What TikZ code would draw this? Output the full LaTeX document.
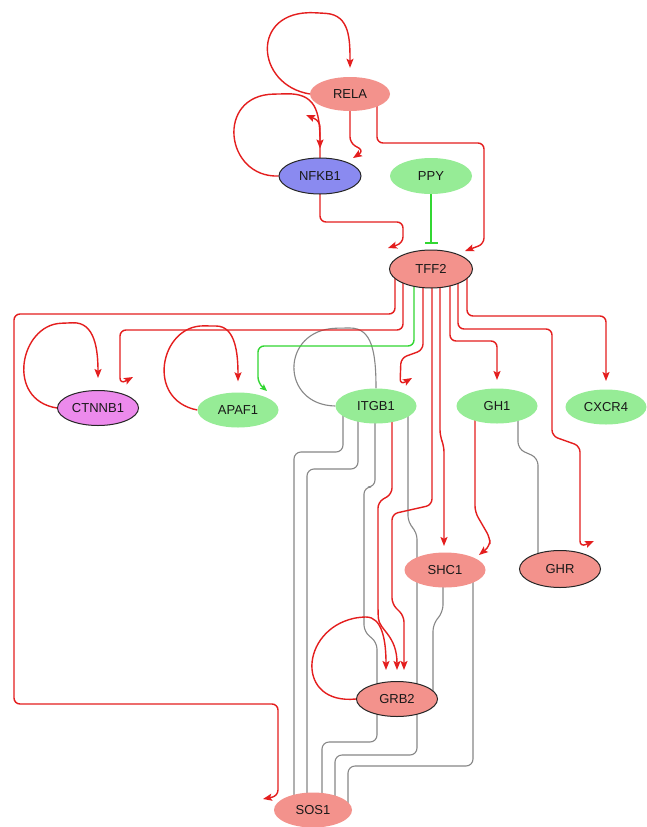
\documentclass[tikz,border=0pt]{standalone}
\usepackage{fontspec}
\setmainfont{Liberation Sans}
\usetikzlibrary{arrows.meta,shapes.geometric}
\definecolor{salm}{RGB}{243,146,140}
\definecolor{lgreen}{RGB}{150,236,150}
\definecolor{lblue}{RGB}{138,138,240}
\definecolor{lviolet}{RGB}{236,138,236}
\definecolor{ered}{RGB}{228,30,30}
\definecolor{egray}{RGB}{135,135,135}
\definecolor{egreen}{RGB}{50,215,50}
\pgfdeclarelayer{bg}
\pgfsetlayers{bg,main}
\begin{document}
\begin{tikzpicture}[x=1pt,y=-1pt,
  gene/.style={ellipse, minimum width=81pt, minimum height=35pt, inner sep=0pt,
    font=\fontsize{13}{15}\selectfont, text=black!90},
  pink/.style={gene, fill=salm},
  grn/.style={gene, fill=lgreen},
  outl/.style={draw=black!85, line width=1pt},
  rd/.style={draw=ered, line width=1.4pt, rounded corners=6pt},
  gy/.style={draw=egray, line width=1.1pt, rounded corners=7pt},
  gn/.style={draw=egreen, line width=1.4pt, rounded corners=6pt},
  arr/.style={-{Stealth[length=9pt,width=7pt,inset=1.8pt]}}]
\useasboundingbox (0,0) rectangle (646,827);
% nodes
\node[pink, minimum width=80pt, minimum height=34pt] (RELA) at (350,94) {RELA};
\node[gene, fill=lblue, outl, minimum width=82pt, minimum height=36pt] (NFKB1) at (320,176) {NFKB1};
\node[grn, minimum width=82pt, minimum height=36pt] (PPY) at (431,176) {PPY};
\node[pink, outl, minimum width=83pt, minimum height=38pt] (TFF2) at (431,269) {TFF2};
\node[gene, fill=lviolet, outl] (CTNNB1) at (98,408) {CTNNB1};
\node[grn] (APAF1) at (238,410) {APAF1};
\node[grn] (ITGB1) at (376,406) {ITGB1};
\node[grn] (GH1) at (497,406) {GH1};
\node[grn] (CXCR4) at (606,407) {CXCR4};
\node[pink] (SHC1) at (445,570) {SHC1};
\node[pink, outl, minimum height=37pt] (GHR) at (560,569) {GHR};
\node[pink, outl] (GRB2) at (397,699) {GRB2};
\node[pink, minimum width=78pt] (SOS1) at (313,810) {SOS1};
\begin{pgfonlayer}{bg}
\fill[white] (0,0) rectangle (646,827);
% gray edges
\draw[gy] (ITGB1.west) .. controls (280,405) and (280,330) .. (343,328) .. controls (372,328) and (376,352) .. (ITGB1.north);
\draw[gy] ([xshift=-33pt]ITGB1.center) -- (343,452) -- (294,452) -- ([xshift=-19pt]SOS1.center);
\draw[gy] ([xshift=-18pt]ITGB1.center) -- (358,469) -- (307,469) -- ([xshift=-6pt]SOS1.center);
\draw[gy] ([xshift=-1pt]ITGB1.center) -- (375,487) -- (364,487) -- (364,632) -- (377,642) -- ([xshift=-20pt]GRB2.center);
\draw[gy] ([xshift=32pt]ITGB1.center) -- (408,523) -- (417,532) -- (417,755) -- (335,755) -- ([xshift=22pt]SOS1.center);
\draw[gy] ([xshift=-20pt]GRB2.center) -- (377,742) -- (322,742) -- ([xshift=9pt]SOS1.center);
\draw[gy] ([xshift=-2pt]SHC1.center) -- (443,612) -- (433,624) -- ([xshift=36pt]GRB2.center);
\draw[gy] ([xshift=28pt]SHC1.center) -- (473,766) -- (348,766) -- ([xshift=35pt]SOS1.center);
\draw[gy] ([xshift=21pt]GH1.center) -- (518,449) -- (538,458) -- ([xshift=-22pt]GHR.center);
% red edges
\draw[rd,arr,shorten >=9pt] (RELA.west) .. controls (255,85) and (250,10) .. (320,13) .. controls (350,15) and (350,40) .. (RELA.north);
\draw[rd,arr,shorten >=9pt] (NFKB1.west) .. controls (225,178) and (215,95) .. (280,94) .. controls (315,93) and (320,110) .. (NFKB1.north);
\draw[rd,arr] (NFKB1.center) -- (320,121) [sharp corners] -- (306,115);
\draw[rd,arr] (RELA.center) -- (350,143) -- (364,151) [sharp corners] -- (353,158);
\draw[rd,arr] ([xshift=27pt]RELA.center) -- (377,143) -- (484,143) -- (484,244) [sharp corners] -- (465,251);
\draw[rd,arr] (NFKB1.center) -- (320,222) -- (403,222) -- (403,243) [sharp corners] -- (388,248);
\draw[gn,-{Bar[width=13pt]},shorten >=6pt] (PPY) -- (TFF2);
\draw[rd,arr,shorten >=12pt] (CTNNB1.west) .. controls (5,400) and (20,325) .. (67,323) .. controls (95,322) and (98,350) .. (CTNNB1.north);
\draw[rd,arr,shorten >=11pt] (APAF1.west) .. controls (145,400) and (160,325) .. (210,326) .. controls (236,326) and (238,355) .. (APAF1.north);
\draw[rd,arr] ([xshift=-36pt]TFF2.center) -- (395,314) -- (14,314) -- (14,704) -- (278,704) -- (278,796) [sharp corners] -- (263,799);
\draw[rd,arr] ([xshift=-28pt]TFF2.center) -- (403,330) -- (120,330) -- (120,384) [sharp corners] -- (133,377);
\draw[gn,-{Stealth[length=7pt,width=6pt,inset=1.5pt]}] ([xshift=-17pt]TFF2.center) -- (414,346) -- (258,346) -- (258,383) [sharp corners] -- (267,391);
\draw[rd,arr] ([xshift=-8pt]TFF2.center) -- (423,350) -- (401,358) -- (400,385) [sharp corners] -- (412,378);
\draw[rd,arr] ([xshift=1pt]TFF2.center) -- (432,505) -- (392,514) -- (392,604) -- (404,616) -- (404,670);
\draw[rd,arr] ([xshift=16pt]ITGB1.center) -- (392,494) -- (378,502) -- (378,612) .. controls (379,630) and (397,635) .. (397,670);
\draw[rd,arr] (GRB2.west) .. controls (295,705) and (300,630) .. (360,617) .. controls (382,617) and (386,640) .. (386,670);
\draw[rd,arr] ([xshift=9pt]TFF2.center) -- (440,436) -- (444,446) -- (444,546);
\draw[rd,arr] ([xshift=19pt]TFF2.center) -- (450,341) -- (497,341) -- (497,380);
\draw[rd,arr] ([xshift=27pt]TFF2.center) -- (458,329) -- (552,329) -- (552,436) -- (580,446) -- (580,547) [sharp corners] -- (594,541);
\draw[rd,arr] ([xshift=36pt]TFF2.center) -- (467,316) -- (606,316) -- (606,381);
\draw[rd,arr] ([xshift=-22pt]GH1.center) -- (475,512) -- (490,538) -- (490,546) [sharp corners] -- (479,555);
\end{pgfonlayer}
\end{tikzpicture}
\end{document}
